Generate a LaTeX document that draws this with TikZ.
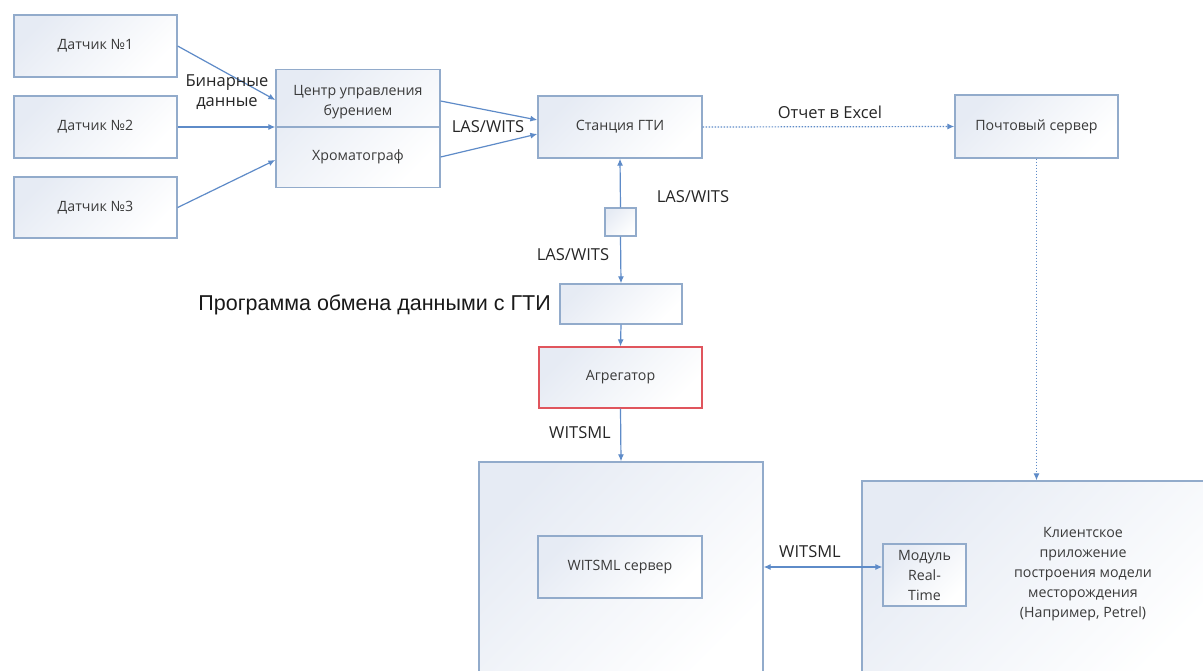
\documentclass[tikz,border=0pt]{standalone}
\usepackage{fontspec}
\setmainfont{Open Sans}
\newfontfamily\arialfont{Liberation Sans}
\usetikzlibrary{arrows.meta,calc}
\definecolor{boxline}{HTML}{92ABCB}
\definecolor{arrowc}{HTML}{5E8BC8}
\definecolor{redline}{HTML}{E0555D}
\definecolor{boxtint}{HTML}{E6EBF4}
\definecolor{txt}{HTML}{3A3A3A}
\begin{document}
\begin{tikzpicture}[x=1pt,y=-1pt,
  blk/.style={draw=boxline, line width=1.3pt, top color=boxtint, bottom color=white,
    shading angle=45, text=txt, font=\fontsize{14.2}{20}\selectfont, align=center,
    inner sep=0pt},
  inner/.style={text=txt, font=\fontsize{14.2}{20}\selectfont, align=center, inner sep=0pt},
  lbl/.style={text=black!85, font=\fontsize{16.5}{20}\selectfont, align=center, inner sep=0pt},
  conn/.style={draw=arrowc, line width=1.2pt, -{Latex[length=7pt,width=6pt]}},
  dots/.style={conn, dash pattern=on 1.5pt off 1.5pt},
]
\clip (0,0) rectangle (1203,670);
\fill[white] (0,0) rectangle (1203,670);

% sensors
\node[blk, minimum width=163pt, minimum height=62pt] (s1) at (95.5,46) {Датчик №1};
\node[blk, minimum width=163pt, minimum height=62pt] (s2) at (95.5,127) {Датчик №2};
\node[blk, minimum width=163pt, minimum height=61pt] (s3) at (95.5,207.5) {Датчик №3};

% drilling control centre / chromatograph
\node[blk, minimum width=164pt, minimum height=118pt] (ctrl) at (358,128.5) {};
\node[inner] (ctrlt) at (358,102) {Центр управления\\бурением};
\node[inner] (chrom) at (358,157) {Хроматограф};
\draw[boxline, line width=1.3pt] (ctrl.west |- s2.east) -- (ctrl.east |- s2.east);

% mud logging station and mail server
\node[blk, minimum width=164pt, minimum height=62pt] (gti) at (620,127) {Станция ГТИ};
\node[blk, minimum width=163pt, minimum height=63pt] (mail) at (1036.5,126.5) {Почтовый сервер};

% exchange chain
\node[blk, minimum width=31pt, minimum height=28pt] (small) at (620.5,222) {};
\node[blk, minimum width=122pt, minimum height=40pt] (prog) at (621,304) {};
\node[blk, draw=redline, minimum width=163pt, minimum height=61pt] (agg) at (620.5,377.5) {Агрегатор};

% WITSML server
\node[blk, minimum width=284pt, minimum height=216pt] (big) at (621,570) {};
\node[blk, minimum width=164pt, minimum height=62pt] (wsrv) at (620,567) {WITSML сервер};

% client application
\node[blk, minimum width=353pt, minimum height=199pt] (client) at (1038.5,580.5) {};
\node[blk, minimum width=83pt, minimum height=62pt] (module) at (924.5,575) {Модуль\\Real-\\Time};
\node[inner] (clientt) at (1083,574)
  {Клиентское\\приложение\\построения модели\\месторождения\\(Например, Petrel)};

% connectors
\draw[conn] (s1.east) -- (ctrl.west |- 0,100);
\draw[conn] (s2.east) -- (ctrl.west |- s2.east);
\draw[conn] (s3.east) -- (ctrl.west |- 0,160);
\draw[conn] (ctrl.east |- 0,101) -- (gti.west |- 0,120);
\draw[conn] (ctrl.east |- 0,157) -- (gti.west |- 0,134);
\draw[dots] (gti.east) -- (mail.west);
\draw[conn] (small.north) -- (gti.south);
\draw[conn] (small.south) -- (prog.north);
\draw[conn] (prog.south) -- (agg.north);
\draw[conn] (agg.south) -- (big.north);
\draw[dots] (mail.south) -- (mail.south |- client.north);
\draw[conn, {Latex[length=7pt,width=6pt]}-{Latex[length=7pt,width=6pt]}]
  (big.east |- 0,567) -- (module.west |- 0,567);

% labels
\node[lbl] (bin) at (227,92) {Бинарные\\данные};
\node[lbl] (lw1) at (488,127) {LAS/WITS};
\node[lbl] (excel) at (830,112) {Отчет в Excel};
\node[lbl] (lw2) at (693,197) {LAS/WITS};
\node[lbl] (lw3) at (573,255) {LAS/WITS};
\node[lbl] (wml1) at (580,433) {WITSML};
\node[lbl] (wml2) at (810,552) {WITSML};
\node[text=black!90, font=\arialfont\fontsize{21.5}{24}\selectfont, anchor=east, inner sep=0pt]
  (proglbl) at (551,305) {Программа обмена данными с ГТИ};
\end{tikzpicture}
\end{document}
